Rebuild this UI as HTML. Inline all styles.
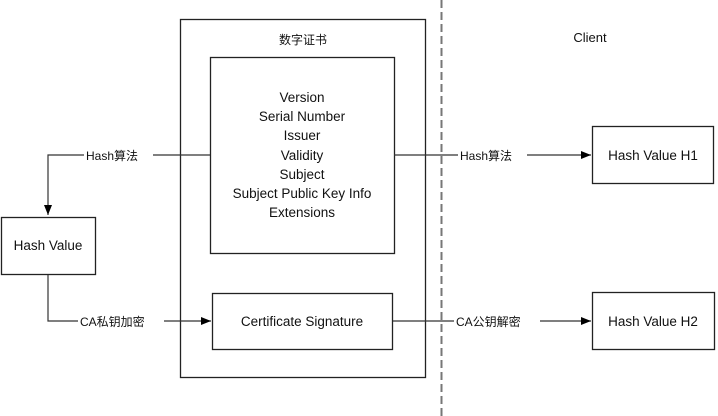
<!DOCTYPE html>
<html><head><meta charset="utf-8"><style>
html,body{margin:0;padding:0;background:#fff;width:718px;height:416px;overflow:hidden}
text{font-family:"Liberation Sans","Noto Sans CJK SC",sans-serif;fill:#111}
</style></head><body>
<svg width="718" height="416" viewBox="0 0 718 416" xmlns="http://www.w3.org/2000/svg">
<defs><marker id="a" markerWidth="10" markerHeight="8" refX="10" refY="4" orient="auto" markerUnits="userSpaceOnUse"><path d="M0,0 L10,4 L0,8 z" fill="#000"/></marker></defs>
<g fill="none" stroke="#222" stroke-width="1.3">
<rect x="180.5" y="19.5" width="245" height="358"/>
<rect x="210.5" y="57.5" width="184" height="196"/>
<rect x="212.5" y="293.5" width="180" height="56"/>
<rect x="1.5" y="217.5" width="94" height="57"/>
<rect x="592.5" y="126.5" width="121" height="57"/>
<rect x="592.5" y="292.5" width="122" height="57"/>
</g>
<line x1="441.5" y1="0" x2="441.5" y2="416" stroke="#777" stroke-width="2" stroke-dasharray="8,4"/>
<g fill="none" stroke="#333" stroke-width="1.2">
<path d="M210,155 H48 V215" marker-end="url(#a)"/>
<path d="M48,275 V321 H211" marker-end="url(#a)"/>
<path d="M394,155 H591" marker-end="url(#a)"/>
<path d="M393,321 H591" marker-end="url(#a)"/>
</g>
<g font-size="12">
<rect x="84" y="146" width="69" height="18" fill="#fff"/>
<text x="86" y="160">Hash算法</text>
<rect x="78" y="312" width="86" height="18" fill="#fff"/>
<text x="80" y="326">CA私钥加密</text>
<rect x="458" y="146" width="69" height="18" fill="#fff"/>
<text x="460" y="160">Hash算法</text>
<rect x="454" y="312" width="86" height="18" fill="#fff"/>
<text x="456" y="326">CA公钥解密</text>
</g>
<text x="303" y="44" font-size="12" text-anchor="middle">数字证书</text>
<text x="590" y="42" font-size="13" text-anchor="middle">Client</text>
<g font-size="13.5" text-anchor="middle">
<text x="302" y="102">Version</text>
<text x="302" y="121">Serial Number</text>
<text x="302" y="140">Issuer</text>
<text x="302" y="160">Validity</text>
<text x="302" y="179">Subject</text>
<text x="302" y="198">Subject Public Key Info</text>
<text x="302" y="217">Extensions</text>
<text x="302" y="326">Certificate Signature</text>
<text x="48" y="250">Hash Value</text>
<text x="653" y="160">Hash Value H1</text>
<text x="653" y="326">Hash Value H2</text>
</g>
</svg>
</body></html>
